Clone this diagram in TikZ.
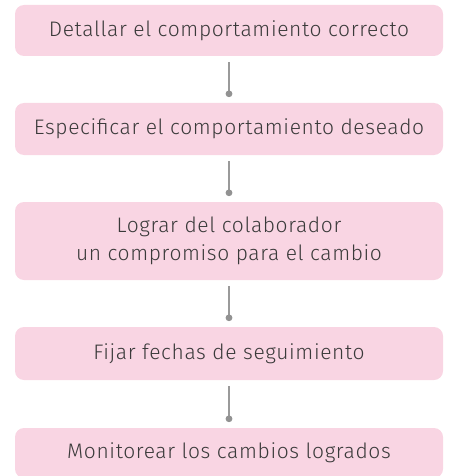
\documentclass[tikz,border=0pt]{standalone}
\usepackage{fontspec}
\setmainfont{Fira Sans Light}[BoldFont=Fira Sans, LetterSpace=3]
\definecolor{boxpink}{HTML}{F9D5E3}
\definecolor{txt}{HTML}{3A3A3A}
\definecolor{conn}{HTML}{9A9A9A}
\begin{document}
\begin{tikzpicture}[x=1pt,y=-1pt,
  stepbox/.style={fill=boxpink, draw=none, rounded corners=9pt, minimum width=428pt, text=txt, font=\fontsize{21}{28}\selectfont, align=center, inner sep=0pt},
  connline/.style={draw=conn, line width=1.6pt},
  dotmark/.style={fill=conn!95!black, draw=none}]
\useasboundingbox (0,0) rectangle (452,476);
\node[stepbox, minimum height=51pt] (a) at (229,30.5) {Detallar el comportamiento correcto};
\node[stepbox, minimum height=52pt] (b) at (229,129) {Especificar el comportamiento deseado};
\node[stepbox, minimum height=78pt] (c) at (229,241) {Lograr del colaborador\\un compromiso para el cambio};
\node[stepbox, minimum height=53pt] (d) at (229,353.5) {Fijar fechas de seguimiento};
\node[stepbox, minimum height=50pt] (e) at (229,453) {Monitorear los cambios logrados};
\foreach \u/\v in {a/b,b/c,c/d,d/e}{
  \coordinate (s\u) at ([yshift=-6pt]\u.south);
  \coordinate (t\u) at ([yshift=9pt]\v.north);
  \draw[connline] (s\u) -- (t\u);
  \fill[dotmark] (t\u) circle (3.4pt);
}
\end{tikzpicture}
\end{document}
